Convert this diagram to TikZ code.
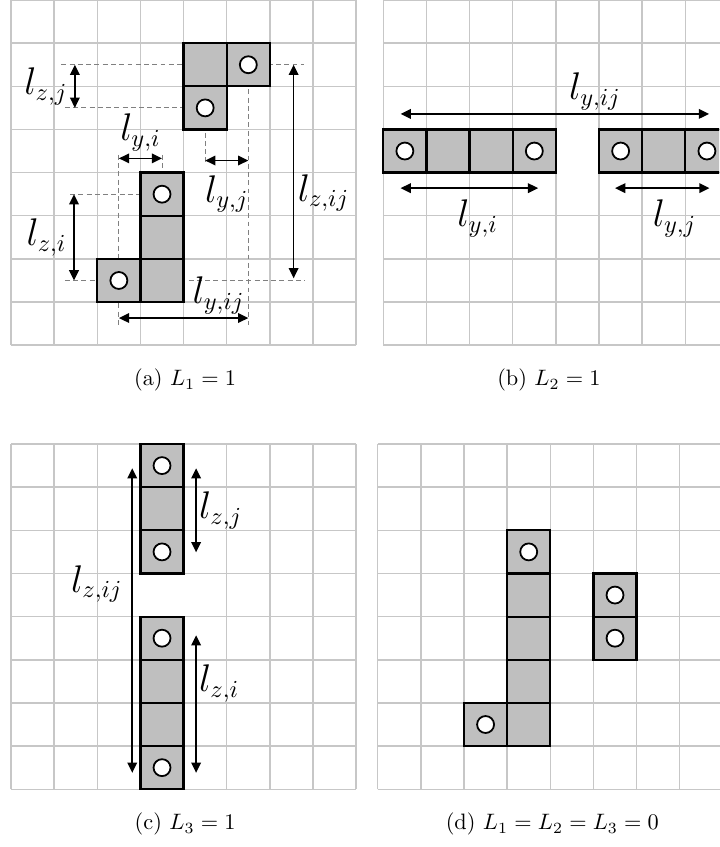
\documentclass[tikz,border=0pt]{standalone}
\usepackage{tikz}
\usetikzlibrary{positioning,arrows.meta,backgrounds}

\begin{document}
\begin{tikzpicture}[x=0.68cm, y=0.68cm, node distance=0pt,
        blk/.style = {draw, line width=1pt, fill=black!25, minimum size=0.68cm, inner sep=0pt, outer sep=0pt},
        hole/.style = {draw, circle, line width=0.8pt, fill=white, minimum size=7.6pt, inner sep=0pt},
        cellgrid/.style = {draw=black!22, line width=0.65pt, step=1},
        guide/.style = {draw=black!50, line width=0.45pt, dash pattern=on 2.2pt off 1.5pt},
        dimline/.style = {<->, >={Triangle[length=4.6pt,width=4.3pt]}, line width=0.7pt},
        lbl/.style = {font=\fontsize{16}{19}\selectfont}]
            \useasboundingbox (0,0) rectangle (16.663,-19.629);
            \clip (0,0) rectangle (16.663,-19.629);

            \begin{scope}[shift={(0.255,0)}]
                \node[blk] (a1) at (5.5,-1.5) {};
                \node[blk] (a2) [left=of a1] {};
                \node[blk] (a3) [below=of a2] {};
                \node[blk] (a4) at (3.5,-4.5) {};
                \node[blk] (a5) [below=of a4] {};
                \node[blk] (a6) [below=of a5] {};
                \node[blk] (a7) [left=of a6] {};
                \node[hole] (ha1) at (a1) {};
                \node[hole] (ha2) at (a3) {};
                \node[hole] (ha3) at (a4) {};
                \node[hole] (ha4) at (a7) {};

                \coordinate (gh1) at (1.17,-1.5);
                \coordinate (gh2) at (6.8,-1.5);
                \coordinate (gh3) at (1.25,-2.5);
                \coordinate (gh4) at (1.37,-4.5);
                \coordinate (gh5) at (1.25,-6.5);
                \coordinate (gh6) at (6.8,-6.5);
                \coordinate (gv1) at (4.5,-3.78);
                \coordinate (gv2) at (5.5,-7.53);
                \coordinate (gv3) at (2.5,-3.59);
                \coordinate (gv4) at (2.5,-7.53);
                \coordinate (gv5) at (3.5,-3.59);

                \begin{scope}[on background layer]
                    \draw[cellgrid] (0,0) grid (8,-8);
                    \draw[guide] (gh1) -- (gh2);
                    \draw[guide] (gh3) -- (ha2.center);
                    \draw[guide] (gh4) -- (ha3.center);
                    \draw[guide] (gh5) -- (gh6);
                    \draw[guide] (ha2.center) -- (gv1);
                    \draw[guide] (ha1.center) -- (gv2);
                    \draw[guide] (gv3) -- (gv4);
                    \draw[guide] (gv5) -- (ha3.center);
                \end{scope}

                \coordinate (zj1) at (1.48,-1.5);
                \coordinate (zj2) at (1.48,-2.5);
                \coordinate (zi1) at (1.46,-4.5);
                \coordinate (zi2) at (1.46,-6.5);
                \coordinate (yi1) at (2.5,-3.67);
                \coordinate (yi2) at (3.5,-3.67);
                \coordinate (yj1) at (4.5,-3.72);
                \coordinate (yj2) at (5.5,-3.72);
                \coordinate (yij1) at (2.5,-7.37);
                \coordinate (yij2) at (5.5,-7.37);
                \coordinate (zij1) at (6.55,-1.5);
                \coordinate (zij2) at (6.55,-6.45);

                \draw[dimline] (zj1) -- (zj2) node[midway, left, inner sep=3pt, lbl] {$l_{z,j}$};
                \draw[dimline] (zi1) -- (zi2) node[midway, left, inner sep=3pt, lbl] {$l_{z,i}$};
                \draw[dimline] (yi1) -- (yi2) node[midway, above, inner sep=3pt, lbl] {$l_{y,i}$};
                \draw[dimline] (yj1) -- (yj2) node[midway, below=3pt, lbl] {$l_{y,j}$};
                \draw[dimline] (yij1) -- (yij2) node[pos=0.77, above, inner sep=1.5pt, lbl] {$l_{y,ij}$};
                \draw[dimline] (zij1) -- (zij2) node[pos=0.6, right, inner sep=1.5pt, lbl] {$l_{z,ij}$};
            \end{scope}

            \begin{scope}[shift={(8.883,0)}]
                \node[blk] (b1) at (0.5,-3.5) {};
                \node[blk] (b2) [right=of b1] {};
                \node[blk] (b3) [right=of b2] {};
                \node[blk] (b4) [right=of b3] {};
                \node[blk] (b5) at (5.5,-3.5) {};
                \node[blk] (b6) [right=of b5] {};
                \node[blk] (b7) [right=of b6] {};
                \node[hole] (hb1) at (b1) {};
                \node[hole] (hb2) at (b4) {};
                \node[hole] (hb3) at (b5) {};
                \node[hole] (hb4) at (b7) {};

                \begin{scope}[on background layer]
                    \draw[cellgrid] (0,0) grid (8,-8);
                    \fill[white] (b4.north east) rectangle (b5.south west);
                \end{scope}

                \coordinate (byij1) at (0.4,-2.64);
                \coordinate (byij2) at (7.55,-2.64);
                \coordinate (byi1) at (0.4,-4.36);
                \coordinate (byi2) at (3.59,-4.36);
                \coordinate (byj1) at (5.37,-4.36);
                \coordinate (byj2) at (7.56,-4.36);

                \draw[dimline] (byij1) -- (byij2) node[pos=0.63, above, inner sep=1.5pt, lbl] {$l_{y,ij}$};
                \draw[dimline] (byi1) -- (byi2) node[pos=0.56, below=1.5pt, lbl] {$l_{y,i}$};
                \draw[dimline] (byj1) -- (byj2) node[pos=0.63, below=1.5pt, lbl] {$l_{y,j}$};
            \end{scope}

            \begin{scope}[shift={(0.255,-10.29)}]
                \node[blk] (c1) at (3.5,-0.5) {};
                \node[blk] (c2) [below=of c1] {};
                \node[blk] (c3) [below=of c2] {};
                \node[blk] (c4) at (3.5,-4.5) {};
                \node[blk] (c5) [below=of c4] {};
                \node[blk] (c6) [below=of c5] {};
                \node[blk] (c7) [below=of c6] {};
                \node[hole] (hc1) at (c1) {};
                \node[hole] (hc2) at (c3) {};
                \node[hole] (hc3) at (c4) {};
                \node[hole] (hc4) at (c7) {};

                \begin{scope}[on background layer]
                    \draw[cellgrid] (0,0) grid (8,-8);
                    \fill[white] (c3.south west) rectangle (c4.north east);
                \end{scope}

                \coordinate (czij1) at (2.81,-0.56);
                \coordinate (czij2) at (2.81,-7.62);
                \coordinate (czj1) at (4.29,-0.56);
                \coordinate (czj2) at (4.29,-2.51);
                \coordinate (czi1) at (4.29,-4.43);
                \coordinate (czi2) at (4.29,-7.62);

                \draw[dimline] (czij1) -- (czij2) node[pos=0.38, left, inner sep=4pt, lbl] {$l_{z,ij}$};
                \draw[dimline] (czj1) -- (czj2) node[midway, right, inner sep=1pt, lbl] {$l_{z,j}$};
                \draw[dimline] (czi1) -- (czi2) node[pos=0.35, right, inner sep=1pt, lbl] {$l_{z,i}$};
            \end{scope}

            \begin{scope}[shift={(8.753,-10.29)}]
                \node[blk] (d1) at (3.5,-2.5) {};
                \node[blk] (d2) [below=of d1] {};
                \node[blk] (d3) [below=of d2] {};
                \node[blk] (d4) [below=of d3] {};
                \node[blk] (d5) [below=of d4] {};
                \node[blk] (d6) [left=of d5] {};
                \node[blk] (d7) at (5.5,-3.5) {};
                \node[blk] (d8) [below=of d7] {};
                \node[hole] (hd1) at (d1) {};
                \node[hole] (hd2) at (d6) {};
                \node[hole] (hd3) at (d7) {};
                \node[hole] (hd4) at (d8) {};

                \begin{scope}[on background layer]
                    \draw[cellgrid] (0,0) grid (8,-8);
                \end{scope}
            \end{scope}

            \node (capa) at (4.29,-8.81) {(a) $L_1 = 1$};
            \node (capb) at (12.72,-8.81) {(b) $L_2 = 1$};
            \node (capc) at (4.29,-19.10) {(c) $L_3 = 1$};
            \node (capd) at (12.80,-19.10) {(d) $L_1 = L_2 = L_3 = 0$};
        \end{tikzpicture}
\end{document}
